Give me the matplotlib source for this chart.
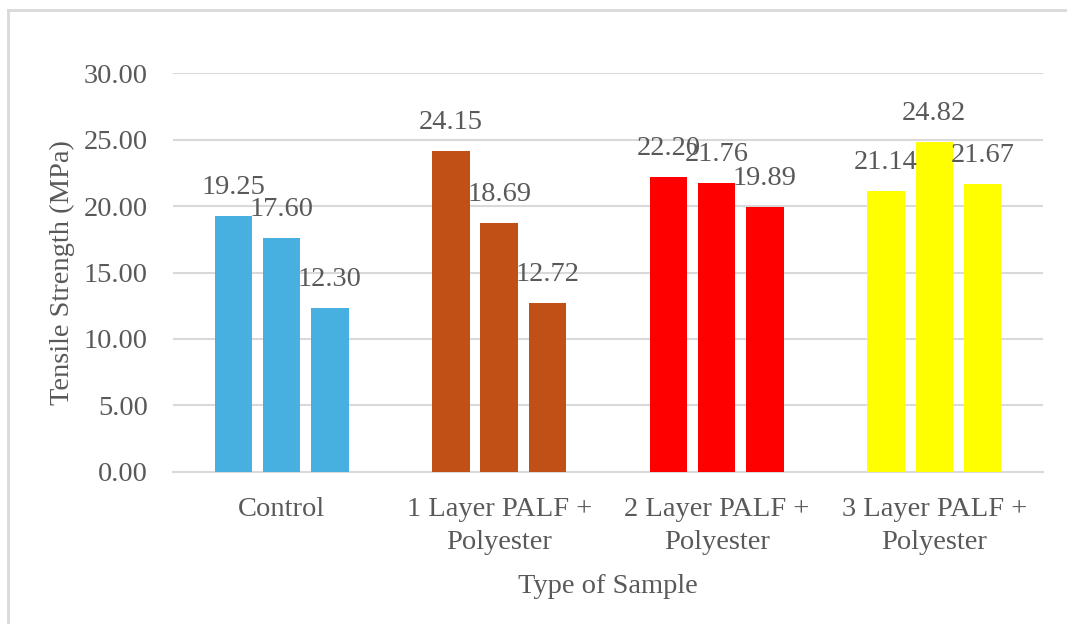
import numpy as np
import matplotlib
matplotlib.use("Agg")
from matplotlib import pyplot as plt
from matplotlib.lines import Line2D

categories = ["Control", "1 Layer PALF +\nPolyester", "2 Layer PALF +\nPolyester", "3 Layer PALF +\nPolyester"]
sample1 = [19.25, 24.15, 22.20, 21.14]
sample2 = [17.60, 18.69, 21.76, 24.82]
sample3 = [12.30, 12.72, 19.89, 21.67]
group_colors = ["#47b0e0", "#c05016", "#ff0000", "#ffff00"]
yticks = [0, 5, 10, 15, 20, 25, 30]

plt.rcParams['font.family'] = ['Liberation Serif', 'DejaVu Serif']
txt = '#595959'
fs = 20.5

fig = plt.figure(figsize=(10.67, 6.24), dpi=100)
ax = fig.add_axes([0.162, 0.2436, 0.8155, 0.6394])

x = np.arange(len(categories))
offsets = [-0.222, 0.0, 0.222]
for off, vals in zip(offsets, [sample1, sample2, sample3]):
    bars = ax.bar(x + off, vals, width=0.172, color=group_colors, zorder=3)
    for b, v in zip(bars, vals):
        ax.annotate(f'{v:.2f}', (b.get_x() + b.get_width() / 2, v),
                    xytext=(0, 20.5), textcoords='offset points',
                    ha='center', va='center', fontsize=fs, color=txt, zorder=4)

ax.set_xlim(-0.5, 3.5)
ax.set_ylim(0, 30)
ax.set_yticks(yticks)
ax.set_yticklabels([f'{t:.2f}' for t in yticks])
ax.set_xticks(x)
ax.set_xticklabels(categories, linespacing=1.4)
ax.tick_params(axis='both', length=0, labelsize=fs, labelcolor=txt)
ax.tick_params(axis='y', pad=18)
ax.tick_params(axis='x', pad=18)
ax.grid(axis='y', color='#d9d9d9', linewidth=1.5, zorder=0)
for s in ['top', 'right', 'left']:
    ax.spines[s].set_visible(False)
ax.spines['bottom'].set_color('#d9d9d9')
ax.spines['bottom'].set_linewidth(1.5)

ax.set_ylabel('Tensile Strength (MPa)', fontsize=fs, color=txt, labelpad=6)
ax.set_xlabel('Type of Sample', fontsize=fs, color=txt, labelpad=14)

# chart border (top and left only visible in crop)
fig.add_artist(Line2D([8 / 1067, 1], [1 - 10 / 624, 1 - 10 / 624], color='#d9d9d9', linewidth=2, transform=fig.transFigure))
fig.add_artist(Line2D([8 / 1067, 8 / 1067], [0, 1 - 10 / 624], color='#d9d9d9', linewidth=2, transform=fig.transFigure))

plt.savefig('out.png', dpi=100)
